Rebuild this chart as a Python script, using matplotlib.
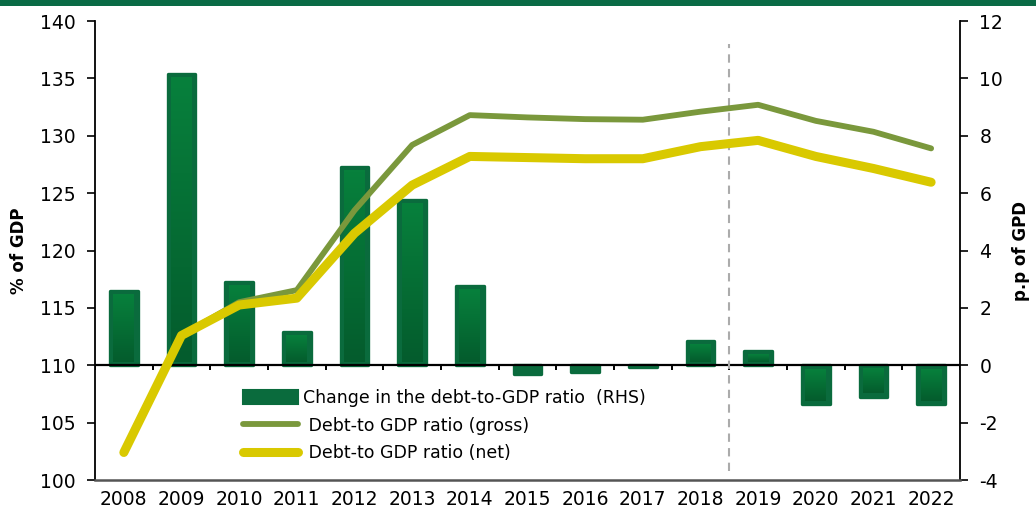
import numpy as np
import matplotlib
matplotlib.use('Agg')
import matplotlib.pyplot as plt
from matplotlib.colors import LinearSegmentedColormap
from matplotlib.patches import Rectangle, Patch
from matplotlib.lines import Line2D

years = ['2008', '2009', '2010', '2011', '2012', '2013', '2014', '2015',
         '2016', '2017', '2018', '2019', '2020', '2021', '2022']

# change in the debt-to-GDP ratio, p.p. (right axis)
change_pp = [2.6, 10.15, 2.9, 1.15, 6.9, 5.75, 2.75, -0.3, -0.25, -0.05,
             0.85, 0.5, -1.35, -1.1, -1.35]

# debt-to-GDP ratios, % of GDP (left axis)
debt_gross = [102.4, 112.6, 115.5, 116.55, 123.5, 129.2, 131.8, 131.6,
              131.45, 131.4, 132.1, 132.7, 131.3, 130.35, 128.9]
debt_net = [102.4, 112.6, 115.25, 115.85, 121.5, 125.7, 128.2, 128.1,
            128.0, 128.0, 129.05, 129.6, 128.2, 127.15, 125.95]

labels = ['Change in the debt-to-GDP ratio  (RHS)',
          ' Debt-to GDP ratio (gross)',
          ' Debt-to GDP ratio (net)']

BAR_EDGE = '#0a6b3d'
GROSS = '#7a983c'
NET = '#d9c900'
BAND = '#0a6b45'

plt.rcParams['font.family'] = ['DejaVu Sans']
plt.rcParams['axes.unicode_minus'] = False

fig = plt.figure(figsize=(10.36, 5.14), dpi=100)
ax = fig.add_axes([0.0917, 0.0661, 0.8349, 0.893])
ax2 = ax.twinx()

# green band along the top edge
fig.patches.append(Rectangle((0, 1 - 6 / 514), 1, 6 / 514, transform=fig.transFigure,
                             facecolor=BAND, edgecolor='none'))

x = np.arange(len(years))

# bars with a light-to-dark vertical gradient inside a darker rim
bars = ax2.bar(x, change_pp, width=0.48, color=BAR_EDGE, edgecolor=BAR_EDGE,
               linewidth=2.4, joinstyle='round', zorder=2)
grad_cmap = LinearSegmentedColormap.from_list('bar', ['#07803c', '#045c2d'])
grad = np.linspace(0, 1, 64).reshape(-1, 1)
for rect in bars:
    x0, y0 = rect.get_xy()
    w, h = rect.get_width(), rect.get_height()
    lo, hi = min(y0, y0 + h), max(y0, y0 + h)
    if hi - lo < 0.4:
        continue
    ax2.imshow(grad, cmap=grad_cmap, aspect='auto', interpolation='bicubic',
               extent=[x0 + 0.06, x0 + w - 0.06, lo + 0.12, hi - 0.12],
               origin='upper', zorder=3)

# zero line with ticks between categories
ax2.axhline(0, color='black', lw=1.6, zorder=4)
ax2.vlines(np.arange(len(years) + 1) - 0.5, -0.18, 0, color='black', lw=1.4, zorder=4)

# forecast divider
ax2.vlines(10.5, -3.7, 11.2, color='#ababab', lw=1.5, linestyles=(0, (4, 3)), zorder=4)

ax2.set_ylim(-4, 12)
ax2.set_yticks(np.arange(-4, 13, 2))
ax2.set_ylabel('p.p of GPD', fontsize=12, fontweight='bold')
ax2.yaxis.set_label_coords(1.060, 0.5)

# lines drawn on the left axis, above the bars
ax.set_zorder(ax2.get_zorder() + 1)
ax.patch.set_visible(False)
ax.plot(x, debt_gross, color=GROSS, lw=4.2, solid_capstyle='round',
        solid_joinstyle='round', zorder=3)
ax.plot(x, debt_net, color=NET, lw=6.5, solid_capstyle='round',
        solid_joinstyle='round', zorder=4)

ax.set_xlim(-0.5, len(years) - 0.5)
ax.set_ylim(100, 140)
ax.set_yticks(np.arange(100, 141, 5))
ax.set_xticks(x)
ax.set_xticklabels(years)
ax.set_ylabel('% of GDP', fontsize=12, fontweight='bold')
ax.yaxis.set_label_coords(-0.077, 0.5)

ax.tick_params(axis='x', length=0, pad=7, labelsize=13.5)
ax.tick_params(axis='y', direction='out', length=6, width=1.2, pad=8, labelsize=13.5)
ax2.tick_params(axis='y', direction='out', length=6, width=1.2, pad=8, labelsize=13.5)

for a in (ax, ax2):
    a.spines['top'].set_visible(False)
ax.spines['right'].set_visible(False)
ax.spines['left'].set_linewidth(1.3)
ax2.spines['right'].set_linewidth(1.3)
ax2.spines['left'].set_visible(False)
ax.spines['bottom'].set_color('#555555')
ax.spines['bottom'].set_linewidth(1.8)
ax2.spines['bottom'].set_visible(False)

handles = [Patch(facecolor=BAR_EDGE, edgecolor=BAR_EDGE, linewidth=1.5, joinstyle='round'),
           Line2D([], [], color=GROSS, lw=4.2, solid_capstyle='round'),
           Line2D([], [], color=NET, lw=6.5, solid_capstyle='round')]
ax.legend(handles, labels, loc='upper left', bbox_to_anchor=(0.171, 0.198),
          frameon=False, fontsize=12.5, handlelength=3.2, handleheight=0.9,
          handletextpad=0.25, labelspacing=0.55, borderpad=0, borderaxespad=0)

fig.savefig('out.png', dpi=100)
